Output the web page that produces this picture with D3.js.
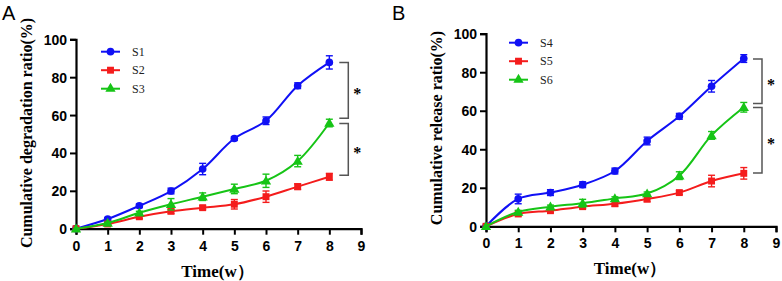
<!DOCTYPE html>
<html>
<head>
<meta charset="utf-8">
<script src="https://cdn.jsdelivr.net/npm/d3@7"></script>
<style>
html,body{margin:0;padding:0;background:#fff;}
svg{display:block;}
</style>
</head>
<body>
<svg id="chart" width="782" height="281"></svg>
<script>
const time = [0,1,2,3,4,5,6,7,8];
const xTicks = [0,1,2,3,4,5,6,7,8,9];
const yTicks = [0,20,40,60,80,100];

const seriesNamesA = ["S1","S2","S3"];
const S1 = [0,5.1,12.1,19.9,31.5,47.6,57.0,75.5,87.8];
const S1err = [0,0.8,1.0,1.5,3.0,1.0,2.0,1.5,3.5];
const S2 = [0,2.5,6.3,9.2,11.1,12.9,16.9,22.2,27.4];
const S2err = [0,0.8,1.0,1.2,1.0,2.5,3.0,1.5,1.8];
const S3 = [0,3.0,8.4,12.9,16.9,21.0,25.3,35.7,55.8];
const S3err = [0,0.5,0.8,3.0,2.0,2.5,3.5,3.0,2.0];

const seriesNamesB = ["S4","S5","S6"];
const S4 = [0,14.2,17.5,21.6,28.7,44.3,57.1,72.7,87.1];
const S4err = [0,2.5,1.5,1.5,1.5,2.0,1.5,3.0,2.0];
const S5 = [0,6.4,8.1,10.2,11.7,14.2,17.5,23.5,27.5];
const S5err = [0,1.0,1.0,1.0,1.2,1.5,1.0,3.0,3.0];
const S6 = [0,7.5,10.2,12.0,14.5,17.0,26.3,47.2,61.8];
const S6err = [0,0.8,0.8,2.0,0.8,0.8,2.0,2.0,2.5];

const yTitleA = "Cumulative degradation ratio(%)";
const yTitleB = "Cumulative release ratio(%)";
const xTitle = "Time(w）";
const sigLabel = "*";

const colors = ["#1010f5","#f41c1c","#16c416"];
const shapes = [d3.symbolCircle, d3.symbolSquare, d3.symbolTriangle];
const shapeSizes = [46, 48, 46];

const svg = d3.select("#chart");

function panel(cfg){
  const g = svg.append("g");
  const x = d3.scaleLinear().domain([0,9]).range([cfg.x0, cfg.x1]);
  const y = d3.scaleLinear().domain([0,100]).range([cfg.y0, cfg.y1]);

  const xa = g.append("g").attr("transform",`translate(0,${cfg.y0})`)
    .call(d3.axisBottom(x).tickValues(xTicks).tickFormat(d3.format("d")).tickSizeOuter(0).tickSize(6).tickPadding(4));
  const ya = g.append("g").attr("transform",`translate(${cfg.x0},0)`)
    .call(d3.axisLeft(y).tickValues(yTicks).tickSizeOuter(0).tickSize(6).tickPadding(3));
  [xa,ya].forEach(a=>{
    a.select(".domain").attr("stroke","#000").attr("stroke-width",2.2);
    a.selectAll(".tick line").attr("stroke","#000").attr("stroke-width",2);
    a.selectAll(".tick text").attr("fill","#000")
      .style("font-family","'Liberation Sans',Arial,sans-serif")
      .style("font-weight","bold").style("font-size","14px");
  });
  xa.selectAll(".tick text").attr("dy","0.85em");
  ya.selectAll(".tick text").attr("dy","0.36em");

  g.append("text").attr("x", (cfg.x0+cfg.x1)/2 - 1).attr("y", cfg.y0+48)
    .attr("text-anchor","middle")
    .style("font-family","'Liberation Serif','Times New Roman',serif")
    .style("font-weight","bold").style("font-size","17px").text(xTitle);
  g.append("text")
    .attr("transform",`translate(${cfg.ytx},${cfg.yty}) rotate(-90)`)
    .attr("text-anchor","middle")
    .style("font-family","'Liberation Serif','Times New Roman',serif")
    .style("font-weight","bold").style("font-size","16px").text(cfg.ytitle);

  g.append("text").attr("x",cfg.lx).attr("y",20)
    .style("font-family","'Liberation Sans',Arial,sans-serif")
    .style("font-size","20px").text(cfg.letter);

  const line = d3.line().x((d,i)=>x(time[i])).y(d=>y(d)).curve(d3.curveCatmullRom.alpha(0.5));

  cfg.series.forEach((s,k)=>{
    const c = colors[k];
    g.append("path").datum(s.v).attr("d",line).attr("fill","none")
      .attr("stroke",c).attr("stroke-width",2);
    const eb = g.append("g").attr("stroke",c).attr("stroke-width",1.4);
    s.v.forEach((v,i)=>{
      const e = s.e[i];
      if(e<=0) return;
      const xx = x(time[i]);
      eb.append("line").attr("x1",xx).attr("x2",xx).attr("y1",y(v-e)).attr("y2",y(v+e));
      eb.append("line").attr("x1",xx-3.5).attr("x2",xx+3.5).attr("y1",y(v-e)).attr("y2",y(v-e));
      eb.append("line").attr("x1",xx-3.5).attr("x2",xx+3.5).attr("y1",y(v+e)).attr("y2",y(v+e));
    });
    g.selectAll(null).data(s.v).enter().append("path")
      .attr("d",d3.symbol().type(shapes[k]).size(shapeSizes[k]))
      .attr("transform",(d,i)=>`translate(${x(time[i])},${y(d)+(k===2?0.8:0)})`)
      .attr("fill",c);
  });

  cfg.names.forEach((n,k)=>{
    const ly = cfg.legY + k*18.5;
    g.append("line").attr("x1",cfg.legX).attr("x2",cfg.legX+19).attr("y1",ly).attr("y2",ly)
      .attr("stroke",colors[k]).attr("stroke-width",2);
    g.append("path").attr("d",d3.symbol().type(shapes[k]).size(shapeSizes[k]))
      .attr("transform",`translate(${cfg.legX+9.5},${ly})`).attr("fill",colors[k]);
    g.append("text").attr("x",cfg.legX+31).attr("y",ly+4)
      .style("font-family","'Liberation Serif','Times New Roman',serif")
      .style("font-size","12px").attr("fill","#222").text(n);
  });

  cfg.brackets.forEach(b=>{
    const top = y(b.a), bot = y(b.b);
    g.append("path")
      .attr("d",`M${cfg.bx-9},${top}H${cfg.bx}V${bot}H${cfg.bx-9}`)
      .attr("fill","none").attr("stroke","#555").attr("stroke-width",1.5);
    g.append("text").attr("x",cfg.bx+9).attr("y",(top+bot)/2+9)
      .attr("text-anchor","middle")
      .style("font-family","'Liberation Serif','Times New Roman',serif")
      .style("font-weight","bold").style("font-size","16px").text(sigLabel);
  });
}

panel({
  x0:76, x1:361, y0:228.7, y1:39.3,
  ytitle:yTitleA, ytx:32, yty:133, letter:"A", lx:2,
  names:seriesNamesA, legX:101, legY:51.7,
  series:[{v:S1,e:S1err},{v:S2,e:S2err},{v:S3,e:S3err}],
  bx:348.3,
  brackets:[{a:87.8,b:58.3},{a:55.6,b:28.2}]
});
panel({
  x0:486, x1:776, y0:226.3, y1:33.7,
  ytitle:yTitleB, ytx:442, yty:128, letter:"B", lx:392,
  names:seriesNamesB, legX:509, legY:42.7,
  series:[{v:S4,e:S4err},{v:S5,e:S5err},{v:S6,e:S6err}],
  bx:762,
  brackets:[{a:86.9,b:63.8},{a:61.7,b:27.7}]
});
</script>
</body>
</html>
